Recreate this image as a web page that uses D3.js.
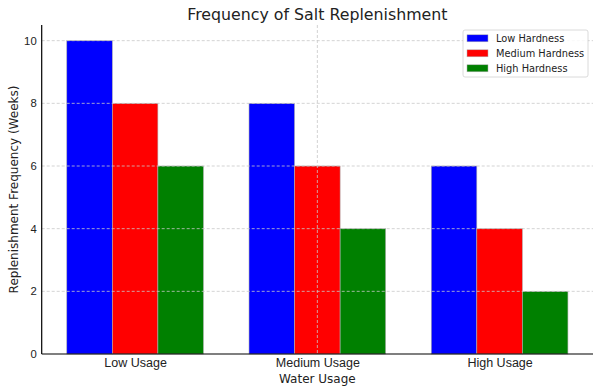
<!DOCTYPE html>
<html>
<head>
<meta charset="utf-8">
<script src="https://cdn.jsdelivr.net/npm/d3@7"></script>
<style>
  body { margin: 0; background: #fff; }
  svg { font-family: "DejaVu Sans", sans-serif; }
  .grid line { stroke: #c8c8c8; stroke-width: 0.8; stroke-dasharray: 3,2; }
</style>
</head>
<body>
<div id="chart"></div>
<script>
'use strict';

// data
const categories = ["Low Usage", "Medium Usage", "High Usage"];
const seriesNames = ["Low Hardness", "Medium Hardness", "High Hardness"];
const lowHardness = [10, 8, 6];
const mediumHardness = [8, 6, 4];
const highHardness = [6, 4, 2];
const yTicks = [0, 2, 4, 6, 8, 10];

const series = [lowHardness, mediumHardness, highHardness];
const colors = ["#0000ff", "#ff0000", "#008000"];

// canvas
const width = 600, height = 392;
const margin = {top: 25, left: 41.7, right: 7, bottom: 38};
const w = width - margin.left - margin.right;
const h = height - margin.top - margin.bottom;

const svg = d3.select("#chart")
  .append("svg")
  .attr("width", width)
  .attr("height", height);

const g = svg.append("g")
  .attr("transform", `translate(${margin.left}, ${margin.top})`);

// scales (category index as a number, like matplotlib bar positions)
const barW = 0.25;
const xScale = d3.scaleLinear().domain([-0.5125, 2.5125]).range([0, w]);
const yScale = d3.scaleLinear().domain([0, 10.5]).range([h, 0]);

// bars
series.forEach((vals, si) => {
  g.selectAll(".bar-" + si)
    .data(vals)
    .enter()
    .append("rect")
    .attr("class", "bar-" + si)
    .attr("x", (d, i) => xScale(i + (si - 1) * barW - barW / 2))
    .attr("y", d => yScale(d))
    .attr("width", xScale(barW) - xScale(0))
    .attr("height", d => yScale(0) - yScale(d))
    .attr("fill", colors[si])
    .attr("stroke", "#b0b0b0")
    .attr("stroke-width", 0.6);
});

// grid lines over the bars
g.append("g")
  .attr("class", "grid")
  .selectAll("line")
  .data(yTicks.slice(1))
  .enter()
  .append("line")
  .attr("x1", 0)
  .attr("x2", w)
  .attr("y1", d => yScale(d))
  .attr("y2", d => yScale(d));

g.append("g")
  .attr("class", "grid")
  .append("line")
  .attr("x1", xScale(1))
  .attr("x2", xScale(1))
  .attr("y1", 0)
  .attr("y2", h);

// axes
const xAxis = d3.axisBottom(xScale)
  .tickValues([0, 1, 2])
  .tickFormat(i => categories[i])
  .tickSize(0)
  .tickPadding(4);
const yAxis = d3.axisLeft(yScale)
  .tickValues(yTicks)
  .tickSize(0)
  .tickPadding(5);

const gx = g.append("g")
  .attr("transform", `translate(0, ${h})`)
  .call(xAxis);
const gy = g.append("g").call(yAxis);

[gx, gy].forEach(a => {
  a.select(".domain").attr("stroke", "#000").attr("stroke-width", 1.2);
  a.selectAll("text").attr("fill", "#222");
});
gx.selectAll("text").style("font-size", "12.5px");
gy.selectAll("text").style("font-size", "11.3px");
gx.select(".domain").attr("d", `M0,0H${w}`);
gy.select(".domain").attr("d", `M0,${h}V0`);

// titles
svg.append("text")
  .attr("x", margin.left + w / 2)
  .attr("y", 19.5)
  .attr("text-anchor", "middle")
  .style("font-size", "15.8px")
  .attr("fill", "#222")
  .text("Frequency of Salt Replenishment");

svg.append("text")
  .attr("x", margin.left + w / 2)
  .attr("y", 383.3)
  .attr("text-anchor", "middle")
  .style("font-size", "12px")
  .attr("fill", "#222")
  .text("Water Usage");

svg.append("text")
  .attr("transform", `translate(17.5, ${margin.top + h / 2}) rotate(-90)`)
  .attr("text-anchor", "middle")
  .style("font-size", "12px")
  .attr("fill", "#222")
  .text("Replenishment Frequency (Weeks)");

// legend
const legend = svg.append("g").attr("transform", "translate(463, 30)");
legend.append("rect")
  .attr("width", 125)
  .attr("height", 47)
  .attr("rx", 2)
  .attr("fill", "#fff")
  .attr("fill-opacity", 0.85)
  .attr("stroke", "#d0d0d0")
  .attr("stroke-width", 0.8);

const items = legend.selectAll(".item")
  .data(seriesNames)
  .enter()
  .append("g")
  .attr("class", "item")
  .attr("transform", (d, i) => `translate(4, ${8.3 + i * 15})`);
items.append("rect")
  .attr("x", 0)
  .attr("y", -3.5)
  .attr("width", 21)
  .attr("height", 7)
  .attr("fill", (d, i) => colors[i])
  .attr("stroke", "#b0b0b0")
  .attr("stroke-width", 0.5);
items.append("text")
  .attr("x", 29)
  .attr("y", 3.6)
  .style("font-size", "9.8px")
  .attr("fill", "#222")
  .text(d => d);
</script>
</body>
</html>
